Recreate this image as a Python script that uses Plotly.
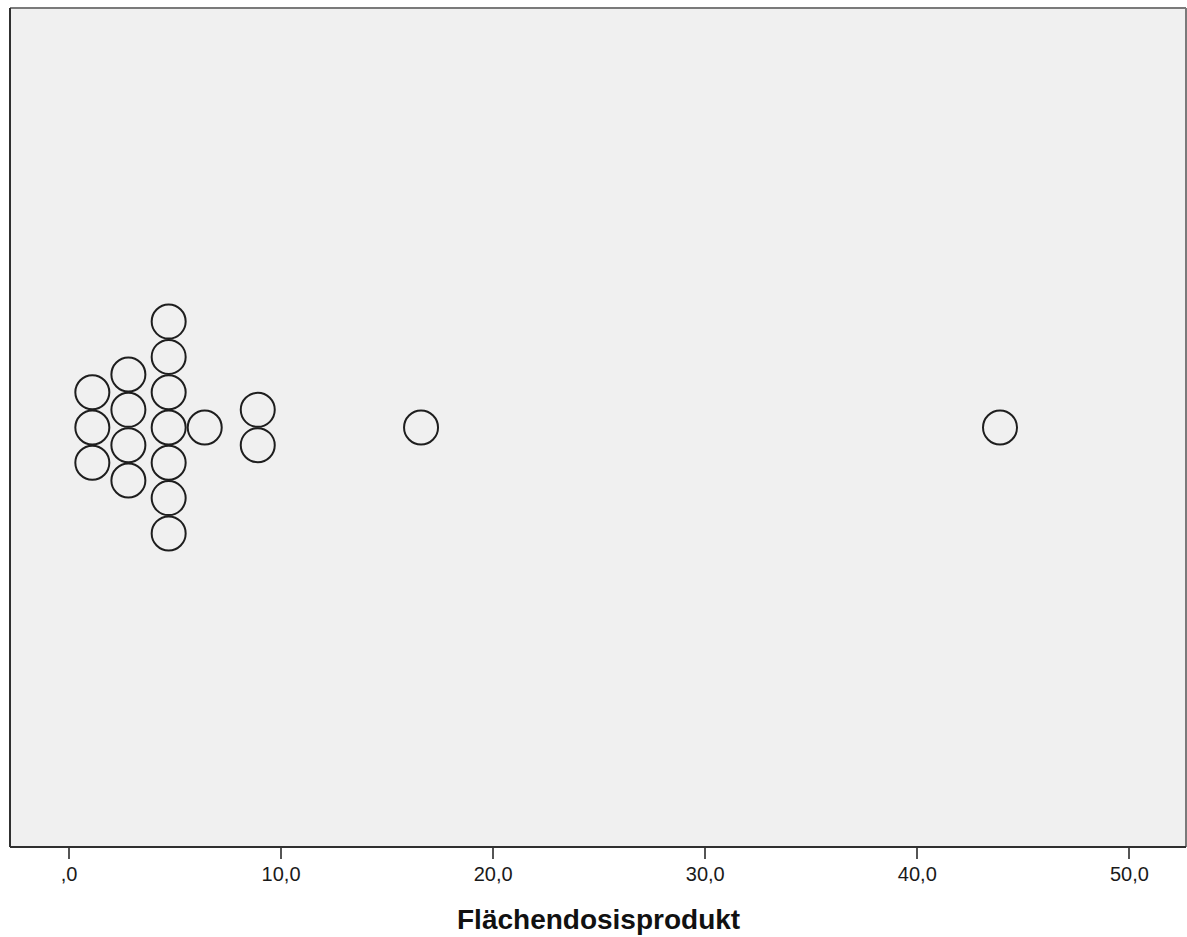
import plotly.graph_objects as go

# Data
dose_values = [1.1, 2.8, 4.7, 6.4, 8.9, 16.6, 43.9]
dose_counts = [3, 4, 7, 1, 2, 1, 1]
tick_values = [0, 10, 20, 30, 40, 50]
tick_labels = [",0", "10,0", "20,0", "30,0", "40,0", "50,0"]
axis_title = "Flächendosisprodukt"

xs, ys = [], []
for v, n in zip(dose_values, dose_counts):
    for k in range(n):
        xs.append(v)
        ys.append(k - (n - 1) / 2)

fig = go.Figure()
fig.add_trace(go.Scatter(
    x=xs, y=ys, mode="markers",
    marker=dict(symbol="circle", size=34, color="rgba(0,0,0,0)",
                line=dict(color="#1e1e1e", width=2)),
    hoverinfo="skip", showlegend=False,
))

fig.update_layout(
    width=1187, height=937,
    margin=dict(l=10, r=1, t=8, b=90),
    paper_bgcolor="white", plot_bgcolor="#F0F0F0",
    font=dict(family="Liberation Sans, Arial, sans-serif", color="#222222"),
    xaxis=dict(range=[-2.782, 52.67], tickvals=tick_values, ticktext=tick_labels,
               ticks="outside", ticklen=11, tickwidth=2, tickcolor="#555555",
               tickfont=dict(size=20, color="#1a1a1a"), ticklabelstandoff=-2,
               showgrid=False, zeroline=False, showline=False, fixedrange=True),
    yaxis=dict(range=[-11.88, 11.88], showticklabels=False, showgrid=False,
               zeroline=False, showline=False, ticks="", fixedrange=True),
    shapes=[
        dict(type="line", xref="paper", yref="paper", x0=0, x1=1, y0=1, y1=1,
             line=dict(color="#7a7a7a", width=2)),
        dict(type="line", xref="paper", yref="paper", x0=1, x1=1, y0=0, y1=1,
             line=dict(color="#7a7a7a", width=2)),
        dict(type="line", xref="paper", yref="paper", x0=0, x1=0, y0=0, y1=1,
             line=dict(color="#303030", width=2)),
        dict(type="line", xref="paper", yref="paper", x0=0, x1=1, y0=0, y1=0,
             line=dict(color="#303030", width=2)),
    ],
    annotations=[dict(text="<b>" + axis_title + "</b>", xref="paper", yref="paper",
                      x=0.5, y=-(919 - 847) / 839, xanchor="center", yanchor="middle",
                      showarrow=False, font=dict(size=28, color="#111111"))],
)

fig.write_html("out.html", config={"displayModeBar": False})
